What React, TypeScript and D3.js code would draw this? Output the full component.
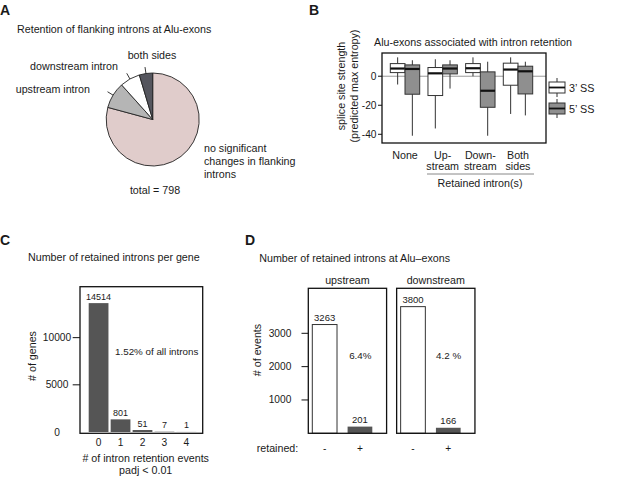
import * as d3 from 'd3'

// Panel A – pie of flanking intron retention (clockwise from 12 o'clock)
const pieLabels = ['no significant changes', 'upstream intron', 'downstream intron', 'both sides']
const pieValues = [632, 73, 56, 37]
const pieColors = ['#e0cccb', '#b5b5b5', '#ffffff', '#55565e']

// Panel B – splice site strength box plots
const boxGroups = ['None', 'Up-stream', 'Down-stream', 'Both sides']
const boxGroupLines = [['None'], ['Up-', 'stream'], ['Down-', 'stream'], ['Both', 'sides']]
// [whiskerLow, q1, median, q3, whiskerHigh]
const ss3 = [
  [-5.7, 2.5, 5.3, 8.7, 13],
  [-36, -13.3, 2, 6, 11.7],
  [0, 2.5, 5.5, 8.7, 13],
  [-26, -6.2, 4.6, 9, 13],
]
const ss5 = [
  [-41, -12.4, 5, 7.8, 11],
  [-8.5, 1.6, 5.3, 7.8, 11],
  [-41, -21.4, -10, 3, 10],
  [-27, -12.2, 3.4, 6.9, 10],
]
const bTicks = [0, -20, -40]

// Panel C – retained introns per gene
const cCategories = ['0', '1', '2', '3', '4']
const cHeights = [13660, 1340, 210, 30, 8]
const cLabels = ['14514', '801', '51', '7', '1']
const cTicks = [0, 5000, 10000]

// Panel D – retained introns at Alu-exons
const dFacets = ['upstream', 'downstream']
const dCategories = ['-', '+']
const dValues = [[3263, 201], [3800, 166]]
const dPercent = ['6.4%', '4.2 %']
const dTicks = [1000, 2000, 3000]

const FONT = '"Liberation Sans", Arial, Helvetica, sans-serif'
const TXT = 10.7 // titles and labels
const TICK = 10.2

function PanelA() {
  const cx = 152.7, cy = 119.5, r = 46.5
  const pie = d3.pie<number>().sort(null)
  const arcs = pie(pieValues)
  const arc = d3.arc<d3.PieArcDatum<number>>().innerRadius(0).outerRadius(r)
  return (
    <g>
      <text x={0} y={15} fontSize={14} fontWeight="bold">A</text>
      <text x={17} y={33} fontSize={TXT}>Retention of flanking introns at Alu-exons</text>
      <g transform={`translate(${cx},${cy})`}>
        {arcs.map((a, i) => (
          <path key={i} d={arc(a) || ''} fill={pieColors[i]} stroke="#222" strokeWidth={0.9} />
        ))}
        {arcs.slice(1).map((a, i) => {
          const m = (a.startAngle + a.endAngle) / 2
          return (
            <line key={i} x1={Math.sin(m) * r} y1={-Math.cos(m) * r}
              x2={Math.sin(m) * r * 1.14} y2={-Math.cos(m) * r * 1.14} stroke="#222" strokeWidth={0.9} />
          )
        })}
      </g>
      <text x={152} y={59} fontSize={TXT} textAnchor="middle">both sides</text>
      <text x={118} y={70} fontSize={TXT} textAnchor="end">downstream intron</text>
      <text x={90} y={93} fontSize={TXT} textAnchor="end">upstream intron</text>
      <text x={204} y={152} fontSize={TXT}>no significant</text>
      <text x={204} y={165} fontSize={TXT}>changes in flanking</text>
      <text x={204} y={177.5} fontSize={TXT}>introns</text>
      <text x={155} y={194} fontSize={TXT} textAnchor="middle">total = 798</text>
    </g>
  )
}

function PanelB() {
  const left = 382, right = 546, top = 53, bottom = 143
  const y = d3.scaleLinear().domain([-46, 16]).range([bottom, top])
  const x = d3.scalePoint<string>().domain(boxGroups).range([405, 518])
  const bw = 14.7
  const drawBox = (v: number[], x0: number, fill: string, key: string) => (
    <g key={key}>
      <line x1={x0 + bw / 2} x2={x0 + bw / 2} y1={y(v[0])} y2={y(v[4])} stroke="#333" strokeWidth={1} />
      <rect x={x0} width={bw} y={y(v[3])} height={y(v[1]) - y(v[3])} fill={fill} stroke="#333" strokeWidth={1} />
      <line x1={x0} x2={x0 + bw} y1={y(v[2])} y2={y(v[2])} stroke="#111" strokeWidth={2.2} />
    </g>
  )
  return (
    <g>
      <text x={309} y={15} fontSize={14} fontWeight="bold">B</text>
      <text x={473} y={46} fontSize={TXT} textAnchor="middle">Alu-exons associated with intron retention</text>
      <line x1={left} x2={right} y1={y(0)} y2={y(0)} stroke="#999" strokeWidth={1} />
      {boxGroups.map((g, i) => (
        <g key={g}>
          {drawBox(ss3[i], (x(g) as number) - bw, '#ffffff', 'a' + i)}
          {drawBox(ss5[i], x(g) as number, '#8f8f8f', 'b' + i)}
        </g>
      ))}
      <rect x={left} y={top} width={right - left} height={bottom - top} fill="none" stroke="#111" strokeWidth={1.3} />
      {bTicks.map(t => (
        <g key={t}>
          <line x1={378} x2={left} y1={y(t)} y2={y(t)} stroke="#111" strokeWidth={1} />
          <text x={376.5} y={y(t) + 3.5} fontSize={TICK} textAnchor="end">{t}</text>
        </g>
      ))}
      <g transform="translate(345,86) rotate(-90)">
        <text x={0} y={0} fontSize={TXT} textAnchor="middle">splice site strength</text>
        <text x={0} y={12.5} fontSize={TXT} textAnchor="middle">(predicted max entropy)</text>
      </g>
      {boxGroupLines.map((lines, i) => (
        <g key={i}>
          {lines.map((l, j) => (
            <text key={j} x={x(boxGroups[i]) as number} y={158.5 + j * 11} fontSize={TXT} textAnchor="middle">{l}</text>
          ))}
        </g>
      ))}
      <line x1={427} x2={534} y1={174} y2={174} stroke="#888" strokeWidth={1} />
      <text x={480} y={187} fontSize={TXT} textAnchor="middle">Retained intron(s)</text>
      {[['3’ SS', '#ffffff', 82], ['5’ SS', '#8f8f8f', 103]].map(([lab, fill, yy]) => (
        <g key={lab as string}>
          <line x1={557} x2={557} y1={(yy as number) - 4} y2={(yy as number) + 15} stroke="#333" />
          <rect x={549} y={yy as number} width={16} height={11} fill={fill as string} stroke="#333" />
          <line x1={549} x2={565} y1={(yy as number) + 5.5} y2={(yy as number) + 5.5} stroke="#111" strokeWidth={1.8} />
          <text x={569} y={(yy as number) + 9.5} fontSize={10.8}>{lab}</text>
        </g>
      ))}
    </g>
  )
}

function PanelC() {
  const left = 80, right = 202.7, top = 286.7, bottom = 433.3
  const y = d3.scaleLinear().domain([0, 15400]).range([432, top])
  const x = d3.scaleBand<string>().domain(cCategories).range([86.5, 198.5]).padding(0.1)
  return (
    <g>
      <text x={0} y={245} fontSize={14} fontWeight="bold">C</text>
      <text x={28} y={260.5} fontSize={TXT}>Number of retained introns per gene</text>
      {cCategories.map((c, i) => (
        <g key={c}>
          <rect x={x(c)} width={x.bandwidth()} y={y(cHeights[i])} height={y(0) - y(cHeights[i])} fill="#555555" />
          <text x={(x(c) as number) + x.bandwidth() / 2} y={y(cHeights[i]) - 3.5} fontSize={9} textAnchor="middle">{cLabels[i]}</text>
          <text x={(x(c) as number) + x.bandwidth() / 2} y={445.5} fontSize={TICK} textAnchor="middle">{c}</text>
        </g>
      ))}
      <rect x={left} y={top} width={right - left} height={bottom - top} fill="none" stroke="#111" strokeWidth={1.3} />
      {cTicks.map(t => (
        <g key={t}>
          {t > 0 && <line x1={72.7} x2={left} y1={y(t)} y2={y(t)} stroke="#111" />}
          <text x={57} y={y(t) + 3.5} fontSize={TICK} textAnchor="middle">{t}</text>
        </g>
      ))}
      <text transform="translate(36,356) rotate(-90)" fontSize={TXT} textAnchor="middle"># of genes</text>
      <text x={156.7} y={354.5} fontSize={9.8} textAnchor="middle">1.52% of all introns</text>
      <text x={145.7} y={462} fontSize={TXT} textAnchor="middle"># of intron retention events</text>
      <text x={145.7} y={474} fontSize={TXT} textAnchor="middle">padj &lt; 0.01</text>
    </g>
  )
}

function PanelD() {
  const top = 288.3, bottom = 433.3, fw = 78.3
  const fx = d3.scaleBand<string>().domain(dFacets).range([308.3, 475]).paddingInner(0.113)
  const y = d3.scaleLinear().domain([0, 4350]).range([bottom, top])
  const x = d3.scaleBand<string>().domain(dCategories).range([4, 64]).paddingInner(0.3)
  return (
    <g>
      <text x={245} y={245} fontSize={14} fontWeight="bold">D</text>
      <text x={259.3} y={261.5} fontSize={TXT}>Number of retained introns at Alu–exons</text>
      {dFacets.map((f, fi) => {
        const x0 = fx(f) as number
        return (
          <g key={f}>
            <text x={x0 + fw / 2} y={283.5} fontSize={TXT} textAnchor="middle">{f}</text>
            {dCategories.map((c, ci) => {
              const v = dValues[fi][ci]
              const bx = x0 + (x(c) as number)
              return (
                <g key={c}>
                  <rect x={bx} width={x.bandwidth()} y={y(v)} height={y(0) - y(v)}
                    fill={ci === 0 ? '#ffffff' : '#555555'} stroke={ci === 0 ? '#333' : 'none'} strokeWidth={1} />
                  <text x={bx + x.bandwidth() / 2} y={y(v) - 4} fontSize={9.5} textAnchor="middle">{v}</text>
                  <text x={bx + x.bandwidth() / 2} y={452} fontSize={TICK} textAnchor="middle">{c}</text>
                </g>
              )
            })}
            <text x={x0 + 52} y={358.5} fontSize={9.8} textAnchor="middle">{dPercent[fi]}</text>
            <rect x={x0} y={top} width={fw} height={bottom - top} fill="none" stroke="#111" strokeWidth={1.3} />
          </g>
        )
      })}
      {dTicks.map(t => (
        <g key={t}>
          <line x1={301.5} x2={308.3} y1={y(t)} y2={y(t)} stroke="#111" />
          <text x={280} y={y(t) + 3.5} fontSize={TICK} textAnchor="middle">{t}</text>
        </g>
      ))}
      <text transform="translate(261,350) rotate(-90)" fontSize={TXT} textAnchor="middle"># of events</text>
      <text x={256.7} y={452} fontSize={TXT}>retained:</text>
    </g>
  )
}

export default function App() {
  return (
    <div style={{ position: 'absolute', left: 0, top: 0, width: 617, height: 483, background: '#fff' }}>
      <svg width={617} height={483} viewBox="0 0 617 483" style={{ display: 'block', fontFamily: FONT }} fill="#1a1a1a">
        <rect width={617} height={483} fill="#ffffff" />
        <PanelA />
        <PanelB />
        <PanelC />
        <PanelD />
      </svg>
    </div>
  )
}
